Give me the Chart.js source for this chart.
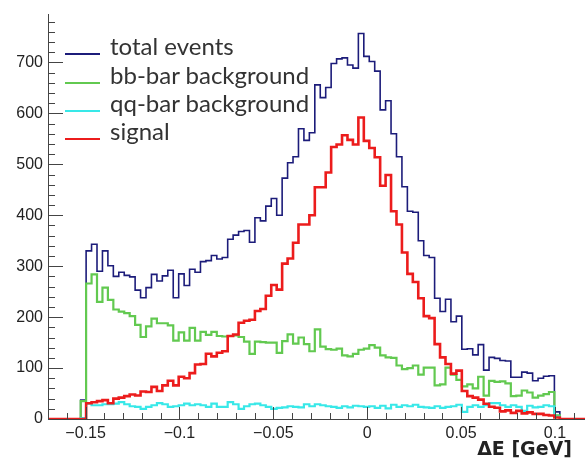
<!DOCTYPE html>
<html>
<head>
<meta charset="utf-8">
<script src="https://cdn.jsdelivr.net/npm/chart.js@4.4.1/dist/chart.umd.min.js"></script>
<style>
  html, body { margin: 0; padding: 0; background: #fff; }
  #wrap { position: relative; width: 585px; height: 460px; overflow: hidden; }
  canvas { display: block; }
  .item { position: absolute; left: 65px; height: 28px; line-height: 28px; white-space: nowrap;
          font-family: Lato, "Open Sans", sans-serif; font-size: 24px; color: #333; }
  .item span.line { position: absolute; left: 0; top: 21px; width: 35px; height: 2px; }
  .item span.txt { position: absolute; left: 45px; top: 0; }
  #xtitle { position: absolute; right: 13px; top: 436px; line-height: 24px;
            font-family: "DejaVu Sans", sans-serif; font-weight: bold; font-size: 19px; color: #222; }
</style>
</head>
<body>
<div id="wrap">
  <canvas id="myChart" width="585" height="460"></canvas>
  <div class="item" style="top:32px"><span class="line" style="background:#1c1c7a"></span><span class="txt">total events</span></div>
  <div class="item" style="top:60.5px"><span class="line" style="background:#62c950"></span><span class="txt">bb-bar background</span></div>
  <div class="item" style="top:89px"><span class="line" style="background:#38e8e8"></span><span class="txt">qq-bar background</span></div>
  <div class="item" style="top:117px"><span class="line" style="background:#ec1c1c"></span><span class="txt">signal</span></div>
  <div id="xtitle">ΔE [GeV]</div>
</div>
<script>
// histogram: bins of 0.0029 GeV, first filled bin starts at -0.1526
const binLow = -0.1526;
const binWidth = 0.0029;

const totalEvents = [
  37, 330, 343, 290, 330, 301, 280, 288, 282, 279,
  253, 238, 258, 284, 271, 281, 292, 238, 285, 262,
  294, 288, 309, 311, 321, 314, 317, 353, 361, 368,
  370, 347, 395, 389, 418, 433, 400, 473, 503, 515,
  570, 547, 562, 656, 631, 651, 698, 707, 709, 695,
  689, 757, 712, 702, 683, 607, 625, 560, 515, 456,
  408, 406, 350, 321, 317, 237, 211, 235, 191, 202,
  137, 138, 126, 146, 96, 121, 119, 115, 114, 82,
  82, 92, 90, 75, 80, 84, 85, 14
];
const bbBackground = [
  35, 266, 284, 230, 258, 234, 215, 211, 208, 202,
  185, 161, 182, 197, 188, 188, 184, 154, 170, 154,
  179, 154, 171, 165, 171, 163, 162, 163, 164, 161,
  152, 128, 152, 151, 150, 150, 130, 153, 166, 148,
  160, 147, 133, 176, 142, 137, 136, 138, 125, 123,
  128, 136, 138, 145, 140, 125, 121, 120, 105, 98,
  100, 105, 87, 101, 101, 66, 68, 101, 87, 77,
  64, 68, 60, 83, 46, 75, 73, 74, 70, 45,
  46, 56, 52, 42, 46, 49, 53, 7
];
const qqBackground = [
  2, 30, 27, 27, 29, 29, 30, 33, 29, 25,
  24, 20, 24, 27, 31, 29, 24, 25, 27, 30,
  27, 29, 27, 24, 30, 24, 24, 33, 29, 20,
  25, 29, 30, 27, 24, 20, 22, 23, 25, 24,
  23, 29, 25, 29, 27, 25, 24, 22, 25, 23,
  26, 25, 24, 25, 22, 26, 21, 28, 24, 27,
  25, 28, 24, 23, 22, 25, 22, 24, 25, 28,
  14, 24, 27, 24, 27, 31, 31, 27, 24, 27,
  24, 16, 26, 23, 24, 27, 25, 4
];
const signal = [
  0, 31, 33, 35, 37, 31, 40, 42, 45, 48,
  46, 54, 53, 63, 55, 66, 75, 66, 83, 80,
  90, 107, 108, 128, 123, 130, 133, 163, 166, 189,
  193, 195, 212, 216, 242, 263, 254, 305, 315, 346,
  382, 382, 400, 455, 455, 484, 534, 539, 557, 548,
  539, 592, 546, 532, 514, 458, 479, 408, 382, 327,
  285, 269, 237, 202, 198, 147, 121, 108, 89, 95,
  55, 45, 42, 38, 30, 24, 22, 15, 17, 12,
  16, 11, 13, 10, 10, 8, 7, 3
];

const xTicks = [-0.15, -0.1, -0.05, 0, 0.05, 0.1];
const xTickLabels = ['\u22120.15', '\u22120.1', '\u22120.05', '0', '0.05', '0.1'];
const yTicks = [0, 100, 200, 300, 400, 500, 600, 700];

const xMin = -0.17, xMax = 0.116, yMax = 794;

function histPoints(values) {
  const pts = [{ x: xMin, y: 0 }];
  values.forEach((v, i) => pts.push({ x: binLow + i * binWidth, y: v }));
  pts.push({ x: binLow + values.length * binWidth, y: 0 });
  pts.push({ x: 0.12, y: 0 });
  return pts;
}

// ROOT style ticks drawn inside the frame
const rootTicks = {
  id: 'rootTicks',
  afterDatasetsDraw(chart) {
    const { ctx, chartArea: a, scales: { x, y } } = chart;
    ctx.save();
    ctx.strokeStyle = '#444';
    ctx.lineWidth = 1;
    ctx.beginPath();
    for (let k = -17; k <= 11; k++) {
      const px = Math.round(x.getPixelForValue(k / 100)) + 0.5;
      const len = k % 5 === 0 ? 12 : 6;
      ctx.moveTo(px, a.bottom);
      ctx.lineTo(px, a.bottom - len);
    }
    for (let v = 0; v <= 780; v += 20) {
      const py = Math.round(y.getPixelForValue(v)) + 0.5;
      const len = v % 100 === 0 ? 15 : 7;
      ctx.moveTo(a.left, py);
      ctx.lineTo(a.left + len, py);
    }
    ctx.stroke();
    ctx.restore();
  }
};

const tickFont = { family: "'Liberation Sans', Arial, sans-serif", size: 16 };

new Chart(document.getElementById('myChart'), {
  type: 'line',
  data: {
    datasets: [
      { label: 'total events', data: histPoints(totalEvents), borderColor: '#1c1c7a', borderWidth: 1.6, order: 4 },
      { label: 'bb-bar background', data: histPoints(bbBackground), borderColor: '#62c950', borderWidth: 2.2, order: 3 },
      { label: 'qq-bar background', data: histPoints(qqBackground), borderColor: '#38e8e8', borderWidth: 2.2, order: 2 },
      { label: 'signal', data: histPoints(signal), borderColor: '#ec1c1c', borderWidth: 2.6, order: 1 },
    ].map(d => Object.assign(d, { stepped: 'before', pointRadius: 0, fill: false, tension: 0 })),
  },
  options: {
    responsive: false,
    animation: false,
    layout: { padding: { top: 9, right: 0, bottom: 0, left: 0 } },
    plugins: { legend: { display: false }, tooltip: { enabled: false } },
    scales: {
      x: {
        type: 'linear',
        min: xMin,
        max: xMax,
        afterFit: s => { s.height = 41; },
        afterBuildTicks: s => { s.ticks = xTicks.map(v => ({ value: v })); },
        ticks: {
          callback: (v, i) => xTickLabels[i],
          font: tickFont, color: '#222', padding: 5, maxRotation: 0, autoSkip: false
        },
        grid: { display: false, drawTicks: false },
        border: { display: true, color: '#444', width: 1 }
      },
      y: {
        min: 0,
        max: yMax,
        afterFit: s => { s.width = 48; },
        afterBuildTicks: s => { s.ticks = yTicks.map(v => ({ value: v })); },
        ticks: { font: tickFont, color: '#222', padding: 5, autoSkip: false },
        grid: { display: false, drawTicks: false },
        border: { display: true, color: '#444', width: 1 }
      }
    }
  },
  plugins: [rootTicks]
});
</script>
</body>
</html>
